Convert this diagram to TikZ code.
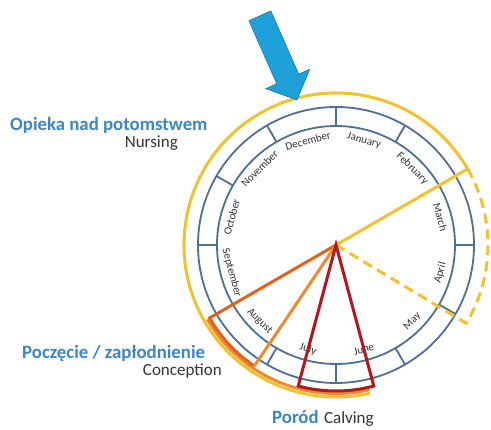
\documentclass[tikz,border=0pt]{standalone}
\usepackage{fontspec}
\setmainfont{Carlito}
\usetikzlibrary{positioning}
\usetikzlibrary{calc}

\definecolor{ringblue}{HTML}{4F6F94}
\definecolor{arrowblue}{HTML}{1EA0DA}
\definecolor{labelblue}{HTML}{3C86C6}
\definecolor{wheelyellow}{HTML}{F2C12E}
\definecolor{wheelorange}{HTML}{EF8A2E}
\definecolor{darkorange}{HTML}{E2631E}
\definecolor{calvred}{HTML}{B3161B}
\definecolor{textgray}{HTML}{333333}

\begin{document}
\begin{tikzpicture}[x=1pt,y=1pt,
      ring/.style={draw=ringblue,line width=1.8pt},
      month/.style={font=\fontsize{11}{12}\selectfont,text=textgray,inner sep=0pt},
      phase/.style={font=\bfseries\fontsize{18.8}{19}\selectfont,text=labelblue,inner sep=0pt},
      phaseen/.style={font=\fontsize{17}{17}\selectfont,text=textgray,inner sep=0pt},
      period/.style={line width=3pt,line join=miter}]
      \useasboundingbox (0,0) rectangle (491,430);
      \coordinate (c) at (336,185);

      % Wheel
      \draw[ring] (c) circle (138pt) (c) circle (119pt);
      \foreach \a in {0,30,...,330}
        \draw[ring] ($(c)+(\a:119pt)$) -- ($(c)+(\a:138pt)$);
      \foreach \m/\a/\r in {January/75/-15,February/45/-45,March/15/-75,April/-15/75,
                            May/-45/45,June/-75/15,July/-105/-15,August/-135/-45,
                            September/-165/-75,October/165/75,November/135/45,December/105/15}
        \node[month,rotate=\r] (m-\m) at ($(c)+(\a:108pt)$) {\m};

      % Periods
      \draw[period,draw=wheelyellow] (c) -- ($(c)+(30:152pt)$)
        arc[start angle=30,end angle=283,radius=152pt];
      \draw[period,draw=wheelyellow,dash pattern=on 10pt off 6pt] ($(c)+(30:152pt)$)
        arc[start angle=30,end angle=-31,radius=152pt] -- (c);
      \draw[period,draw=wheelorange] ($(c)+(-150:148.5pt)$)
        arc[start angle=-150,end angle=-77,radius=148.5pt];
      \draw[period,draw=darkorange] (c) -- ($(c)+(-150:146pt)$)
        arc[start angle=-150,end angle=-124,radius=146pt];
      \draw[period,draw=wheelorange] ($(c)+(-124:146pt)$) -- (c);
      \draw[period,draw=calvred] (c) -- ($(c)+(-105:146pt)$)
        arc[start angle=-105,end angle=-75,radius=146pt] -- cycle;

      % Arrow
      \filldraw[fill=arrowblue,draw=arrowblue!75!black,line width=0.6pt,shift={(297,330)},rotate=-66.2]
        (0,0) -- (-23,24) -- (-23,12) -- (-92,12) -- (-92,-12) -- (-23,-12) -- (-23,-24) -- cycle;

      % Labels
      \node[phase,anchor=west]   (nursingpl)    at (10,305) {Opieka nad potomstwem};
      \node[phaseen,anchor=east] (nursing)      at (178,287) {Nursing};
      \node[phase,anchor=west]   (conceptionpl) at (22,77)  {Poczęcie / zapłodnienie};
      \node[phaseen,anchor=east] (conception)   at (222,59) {Conception};
      \node[phase,anchor=west]   (calvingpl)    at (272,13) {Poród};
      \node[phaseen,base right=5pt of calvingpl] (calving) {Calving};

    \end{tikzpicture}
\end{document}
